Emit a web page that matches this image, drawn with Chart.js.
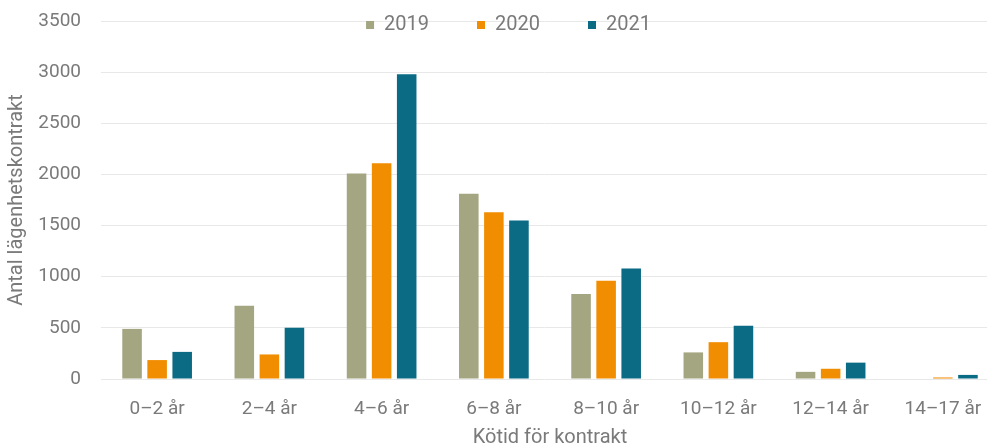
<!DOCTYPE html>
<html>
<head>
<meta charset="utf-8">
<script src="https://cdn.jsdelivr.net/npm/chart.js@4"></script>
<style>
  html, body { margin: 0; padding: 0; background: #fff; }
  #wrap { width: 987px; height: 446px; }
</style>
</head>
<body>
<div id="wrap"><canvas id="chart"></canvas></div>
<script>
const categories = ['0–2 år', '2–4 år', '4–6 år', '6–8 år', '8–10 år', '10–12 år', '12–14 år', '14–17 år'];
const years = ['2019', '2020', '2021'];
const values2019 = [490, 715, 2010, 1810, 830, 260, 70, 0];
const values2020 = [185, 240, 2110, 1630, 960, 360, 100, 15];
const values2021 = [265, 500, 2980, 1550, 1080, 520, 160, 40];
const colors = ['#a3a680', '#f18d00', '#0b6b84'];
const yTicks = [0, 500, 1000, 1500, 2000, 2500, 3000, 3500];

const textColor = '#7a7a7a';
const fontFamily = 'Roboto, "Noto Sans", sans-serif';

// the legend sits on top of the plot, so it takes no room in the layout;
// the plot itself runs a little past the right edge, as in the original
const layoutTweaks = {
    id: 'layoutTweaks',
    beforeInit(chart) {
        const fit = chart.legend.fit;
        chart.legend.fit = function () {
            fit.call(this);
            this.height = 0;
        };
    },
    afterLayout(chart) {
        const lg = chart.legend;
        const pad = lg.options.labels.padding;
        lg.top = 25 - 10 - pad;
        lg.bottom = lg.top + pad + 40;
        lg.left = 30;
        lg.right = 987;

        const x = chart.scales.x;
        const extra = 12;
        x.right += extra;
        x.width += extra;
        chart.chartArea.right += extra;
        chart.chartArea.width += extra;
        x.configure();
    }
};

const series = [values2019, values2020, values2021];

new Chart(document.getElementById('chart'), {
    type: 'bar',
    data: {
        labels: categories,
        datasets: years.map((y, i) => ({
            label: y,
            data: series[i],
            backgroundColor: colors[i],
            borderWidth: 0,
            categoryPercentage: 0.67,
            barPercentage: 0.78
        }))
    },
    options: {
        responsive: true,
        maintainAspectRatio: false,
        animation: false,
        layout: { padding: { left: 7, right: 0, top: 21, bottom: 0 } },
        plugins: {
            legend: {
                position: 'top',
                align: 'center',
                labels: {
                    boxWidth: 8,
                    boxHeight: 8,
                    padding: 48,
                    color: textColor,
                    font: { family: fontFamily, size: 20 }
                }
            },
            tooltip: { enabled: false }
        },
        scales: {
            x: {
                afterFit(axis) {
                    axis.height = 67;
                    axis.paddingLeft = 0;
                    axis.paddingRight = 0;
                },
                grid: { display: false, drawTicks: false },
                border: { display: false },
                ticks: {
                    color: textColor,
                    padding: 19,
                    maxRotation: 0,
                    font: { family: fontFamily, size: 19 }
                },
                title: {
                    display: true,
                    text: 'Kötid för kontrakt',
                    color: textColor,
                    padding: { top: 0, bottom: -2 },
                    font: { family: fontFamily, size: 20, lineHeight: 1 }
                }
            },
            y: {
                min: 0,
                max: 3500,
                afterFit(axis) {
                    axis.width = 94;
                    axis.paddingTop = 0;
                    axis.paddingBottom = 0;
                },
                afterBuildTicks(axis) {
                    axis.ticks = yTicks.map(v => ({ value: v }));
                },
                grid: { color: '#e8e8e8', lineWidth: 1, drawTicks: false },
                border: { display: false },
                ticks: {
                    color: textColor,
                    padding: 20,
                    callback: v => String(v),
                    font: { family: fontFamily, size: 19 }
                },
                title: {
                    display: true,
                    text: 'Antal lägenhetskontrakt',
                    color: textColor,
                    padding: { top: 0, bottom: 0 },
                    font: { family: fontFamily, size: 20, lineHeight: 1 }
                }
            }
        }
    },
    plugins: [layoutTweaks]
});
</script>
</body>
</html>
